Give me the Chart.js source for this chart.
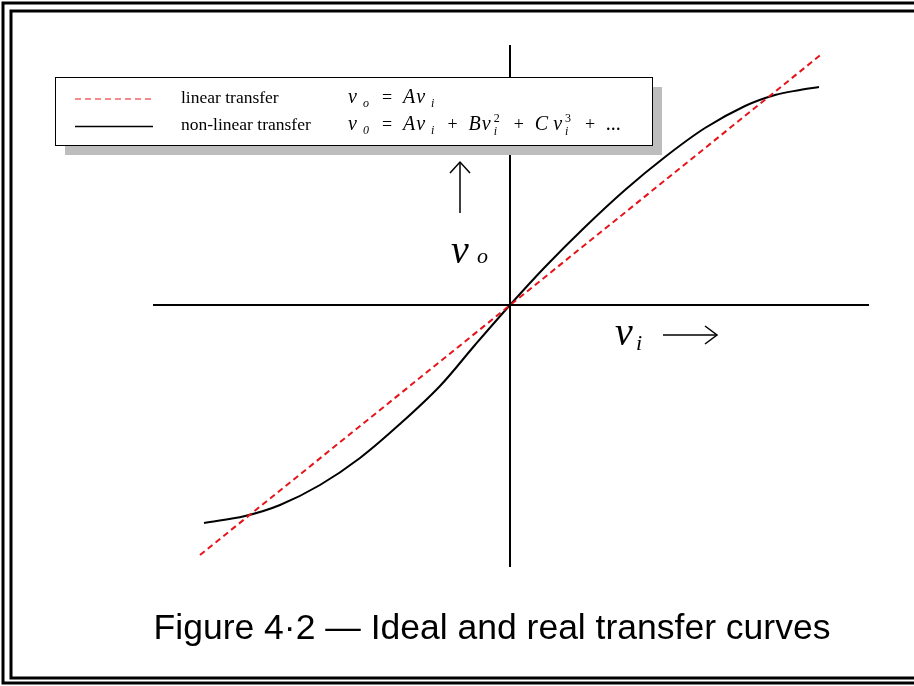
<!DOCTYPE html>
<html>
<head>
<meta charset="utf-8">
<script src="https://cdn.jsdelivr.net/npm/chart.js@4.4.0/dist/chart.umd.min.js"></script>
<style>
  html, body { margin: 0; padding: 0; background: #fff; }
  #wrap { width: 914px; height: 686px; }
</style>
</head>
<body>
<div id="wrap"><canvas id="transfer" width="914" height="686"></canvas></div>
<script>
// ideal (linear) response: end points only
const linearVi = [-3.10, 3.13];
const linearVo = [-2.50, 2.52];
// real (non-linear) response, compresses at both ends
const curveVi = [-3.06, -2.65, -2.30, -1.90, -1.50, -1.10, -0.70, -0.35, 0, 0.35, 0.75, 1.15, 1.55, 1.95, 2.35, 2.65, 2.90, 3.09];
const curveVo = [-2.18, -2.11, -2.00, -1.80, -1.53, -1.19, -0.81, -0.40, 0, 0.38, 0.78, 1.15, 1.48, 1.77, 1.99, 2.10, 2.15, 2.18];
// how far the two axes reach
const axisVi = [-3.57, 3.59];
const axisVo = [-2.62, 2.60];

const legendRows = ['linear transfer', 'non-linear transfer'];
const figureTitle = 'Figure 4\u00b72 \u2014 Ideal and real transfer curves';

const pts = (xs, ys) => xs.map((x, i) => ({ x: x, y: ys[i] }));

const SERIF = '"Liberation Serif", "DejaVu Serif", serif';

// writes a formula piece by piece: italic letters, upright operators, sub/superscripts
function formula(ctx, x, y, parts) {
  let cx = x;
  parts.forEach(p => {
    const [t, kind] = p;
    if (kind === 'op') {
      ctx.font = '18px ' + SERIF;
      cx += 11;
      ctx.fillText(t, cx, y);
      cx += ctx.measureText(t).width + 11;
    } else if (kind === 'sub') {
      ctx.font = 'italic 12px ' + SERIF;
      cx += 5;
      ctx.fillText(t, cx, y + 4);
      cx += ctx.measureText(t).width + 2;
    } else if (kind === 'subsup') {
      ctx.font = 'italic 12px ' + SERIF;
      ctx.fillText(t[0], cx + 2, y + 5);
      ctx.font = '12px ' + SERIF;
      ctx.fillText(t[1], cx + 2, y - 8);
      cx += 11;
    } else if (kind === 'sp') {
      cx += t;
    } else {
      ctx.font = 'italic 20px ' + SERIF;
      ctx.fillText(t, cx, y);
      cx += ctx.measureText(t).width + 1;
    }
  });
}

function line(ctx, pts, w) {
  ctx.beginPath();
  ctx.moveTo(pts[0][0], pts[0][1]);
  for (let i = 1; i < pts.length; i++) ctx.lineTo(pts[i][0], pts[i][1]);
  ctx.lineWidth = w;
  ctx.stroke();
}

const figurePlugin = {
  id: 'figure',
  beforeDraw(chart) {
    const ctx = chart.ctx;
    ctx.save();
    ctx.fillStyle = '#fff';
    ctx.fillRect(0, 0, chart.width, chart.height);
    // double frame, open on the right
    ctx.strokeStyle = '#000';
    ctx.lineWidth = 3;
    ctx.strokeRect(3, 3, 960, 680);
    ctx.strokeRect(11, 11, 960, 667);
    ctx.restore();
  },
  afterDatasetsDraw(chart) {
    const ctx = chart.ctx;
    const ox = chart.scales.x.getPixelForValue(0);
    const oy = chart.scales.y.getPixelForValue(0);
    ctx.save();
    ctx.strokeStyle = '#000';
    ctx.fillStyle = '#000';
    ctx.lineCap = 'butt';

    // legend box with drop shadow
    const bx = 55, by = 77, bw = 597, bh = 68;
    ctx.fillStyle = '#bdbdbd';
    ctx.fillRect(bx + 10, by + 10, bw, bh);
    ctx.fillStyle = '#fff';
    ctx.fillRect(bx, by, bw, bh);
    ctx.lineWidth = 1;
    ctx.strokeRect(bx + 0.5, by + 0.5, bw, bh);

    ctx.strokeStyle = '#e8161b';
    ctx.setLineDash([6, 4]);
    line(ctx, [[75, 99], [151, 99]], 1.2);
    ctx.setLineDash([]);
    ctx.strokeStyle = '#000';
    line(ctx, [[75, 126.5], [153, 126.5]], 1.3);

    ctx.fillStyle = '#000';
    ctx.textBaseline = 'alphabetic';
    ctx.font = '17.5px ' + SERIF;
    ctx.fillText(legendRows[0], 181, 103);
    ctx.fillText(legendRows[1], 181, 130);

    formula(ctx, 348, 103, [['v'], ['o', 'sub'], ['=', 'op'], ['A'], ['v'], ['i', 'sub']]);
    formula(ctx, 348, 130, [['v'], ['0', 'sub'], ['=', 'op'], ['A'], ['v'], ['i', 'sub'], ['+', 'op'],
      ['B'], ['v'], [['i', '2'], 'subsup'], ['+', 'op'], ['C'], [4, 'sp'], ['v'], [['i', '3'], 'subsup'],
      ['+', 'op'], ['...']]);

    // output label with upward arrow
    ctx.font = 'italic 40px ' + SERIF;
    ctx.fillText('v', ox - 59, oy - 42);
    ctx.font = 'italic 22px ' + SERIF;
    ctx.fillText('o', ox - 33, oy - 42);
    line(ctx, [[ox - 50, oy - 92], [ox - 50, oy - 143]], 1.5);
    line(ctx, [[ox - 60, oy - 132], [ox - 50, oy - 143], [ox - 40, oy - 132]], 1.5);

    // input label with arrow to the right
    ctx.font = 'italic 40px ' + SERIF;
    ctx.fillText('v', ox + 105, oy + 40);
    ctx.font = 'italic 22px ' + SERIF;
    ctx.fillText('i', ox + 126, oy + 45);
    line(ctx, [[ox + 153, oy + 30], [ox + 207, oy + 30]], 1.5);
    line(ctx, [[ox + 195, oy + 21], [ox + 207, oy + 30], [ox + 195, oy + 39]], 1.5);

    // caption
    ctx.font = '35.5px "Liberation Sans", Arial, sans-serif';
    ctx.textAlign = 'center';
    ctx.fillText(figureTitle, 492, 639);
    ctx.restore();
  }
};

new Chart(document.getElementById('transfer'), {
  type: 'scatter',
  data: {
    datasets: [
      { data: pts(axisVi, [0, 0]), showLine: true, borderColor: '#000', borderWidth: 2, pointRadius: 0 },
      { data: pts([0, 0], axisVo), showLine: true, borderColor: '#000', borderWidth: 2, pointRadius: 0 },
      {
        label: legendRows[0], data: pts(linearVi, linearVo), showLine: true,
        borderColor: '#e6141a', borderWidth: 2, borderDash: [6, 4], pointRadius: 0
      },
      {
        label: legendRows[1], data: pts(curveVi, curveVo), showLine: true,
        borderColor: '#000', borderWidth: 2, pointRadius: 0, tension: 0.35
      }
    ]
  },
  options: {
    responsive: false,
    animation: false,
    layout: { padding: 0 },
    scales: {
      x: { type: 'linear', min: -5.10, max: 4.04, display: false },
      y: { type: 'linear', min: -3.81, max: 3.05, display: false }
    },
    plugins: { legend: { display: false }, tooltip: { enabled: false }, title: { display: false } }
  },
  plugins: [figurePlugin]
});
</script>
</body>
</html>
